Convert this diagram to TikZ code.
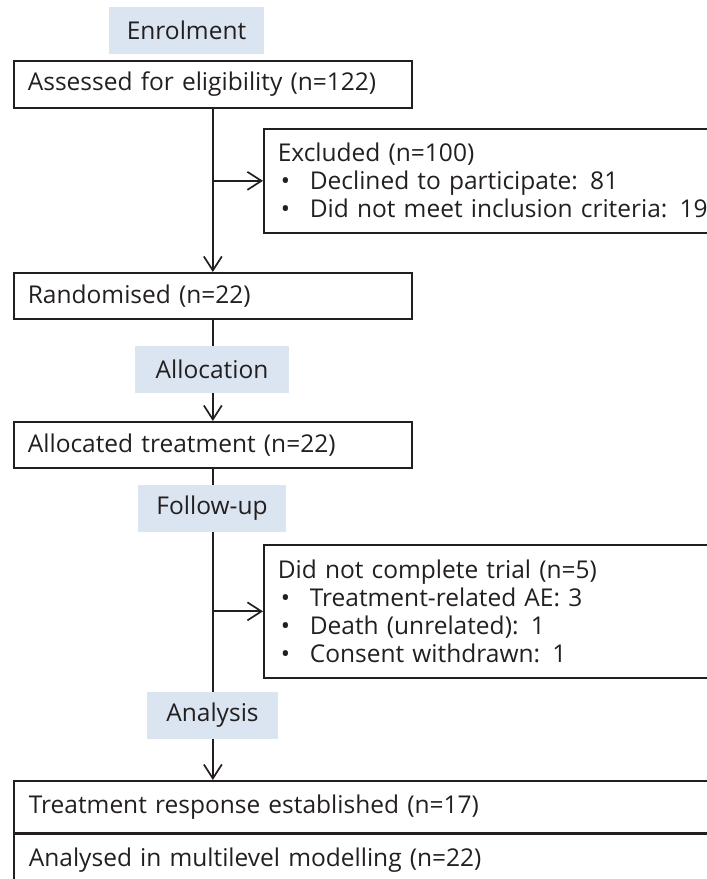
\documentclass[tikz,border=0pt]{standalone}
\usepackage{fontspec}
\setmainfont{Open Sans}
\usepackage{tikz}
\usetikzlibrary{arrows.meta,positioning,calc}
\definecolor{inkgray}{HTML}{231F20}
\definecolor{stagebg}{HTML}{DBE5F1}
\newcommand{\bulletitem}{\hspace*{3pt}\makebox[29pt][l]{\textbullet}}

\begin{document}
\begin{tikzpicture}[
    x=1pt, y=-1pt,
    font=\fontsize{24.5}{28}\selectfont,
    flowbox/.style={rectangle, draw=inkgray, text=inkgray, line width=1.7pt, inner xsep=14pt, inner ysep=0pt, align=left, anchor=north west},
    stagebox/.style={rectangle, fill=stagebg, text=inkgray, minimum height=47pt, inner sep=0pt},
    flowarrow/.style={-{Straight Barb[length=14pt, width=18pt, line width=1.7pt]}, line width=1.8pt, color=inkgray}
]
    \useasboundingbox (0,0) rectangle (707,879);
    \clip (0,0) rectangle (707,879);

    % --- MAIN COLUMN ---
    \node[flowbox, text width=370pt, minimum height=47pt] (assess) at (13,60) {Assessed for eligibility (n=122)};
    \node[flowbox, text width=370pt, minimum height=46pt] (rand) at (13,272) {Randomised (n=22)};
    \node[flowbox, text width=370pt, minimum height=46pt] (alloc) at (13,421) {Allocated treatment (n=22)};

    % --- SIDE BOXES (run off the right edge) ---
    \node[flowbox, text width=480pt, minimum height=104pt] (exclude) at (263,128) {
        Excluded (n=100)\\
        \bulletitem Declined to participate: 81\\
        \bulletitem Did not meet inclusion criteria: 19
    };
    \node[flowbox, text width=480pt, minimum height=133pt] (dnc) at (263,544) {
        Did not complete trial (n=5)\\
        \bulletitem Treatment-related AE: 3\\
        \bulletitem Death (unrelated): 1\\
        \bulletitem Consent withdrawn: 1
    };

    % --- OUTCOME BOXES ---
    \node[flowbox, inner xsep=15pt, text width=800pt, minimum height=52pt] (resp) at (13,780) {Treatment response established (n=17)};
    \node[flowbox, inner xsep=15pt, text width=800pt, minimum height=52pt, below=0pt of resp.south west, anchor=north west] (mlm) {Analysed in multilevel modelling (n=22)};

    % --- CONNECTORS ---
    \draw[flowarrow] (assess.south) -- (rand.north);
    \coordinate (exbranch) at (assess.south |- exclude.west);
    \draw[flowarrow] (exbranch) -- (exclude.west);
    \draw[flowarrow] (rand.south) -- (alloc.north);
    \draw[flowarrow] (alloc.south) -- (alloc.south |- resp.north);
    \coordinate (dncbranch) at (alloc.south |- dnc.west);
    \draw[flowarrow] (dncbranch) -- (dnc.west);

    % --- STAGE LABELS ---
    \node[stagebox, minimum width=155pt] (enrol) at (186.5,30) {Enrolment};
    \node[stagebox, minimum width=154pt] (allocstage) at (212,369.5) {Allocation};
    \node[stagebox, minimum width=148pt] (followstage) at (212,508.5) {Follow-up};
    \node[stagebox, minimum width=131pt] (analysisstage) at (212.5,715.5) {Analysis};
\end{tikzpicture}
\end{document}
